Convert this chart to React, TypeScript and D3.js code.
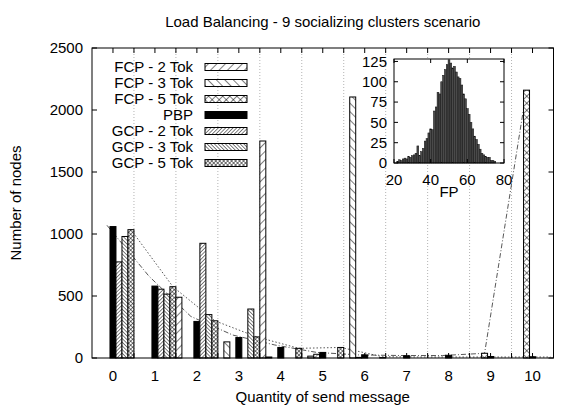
import React, { useEffect, useRef } from 'react';
import * as d3 from 'd3';

// main histogram: nodes per quantity of sent messages
const categories = [0, 1, 2, 3, 4, 5, 6, 7, 8, 9, 10];
const seriesNames = ['FCP - 2 Tok', 'FCP - 3 Tok', 'FCP - 5 Tok', 'PBP', 'GCP - 2 Tok', 'GCP - 3 Tok', 'GCP - 5 Tok'];
const fcp2 = [0, 0, 490, 0, 1750, 0, 0, 0, 0, 0, 0];
const fcp3 = [0, 0, 0, 130, 8, 15, 2105, 0, 0, 0, 0];
const fcp5 = [0, 0, 0, 0, 0, 30, 5, 0, 0, 38, 2160];
const pbp = [1060, 580, 295, 165, 85, 45, 25, 18, 22, 12, 10];
const gcp2 = [775, 555, 925, 0, 0, 0, 0, 0, 0, 0, 0];
const gcp3 = [980, 515, 350, 395, 0, 0, 0, 0, 0, 0, 0];
const gcp5 = [1035, 575, 300, 170, 78, 85, 3, 0, 0, 0, 0];
const trendDotted = [1035, 575, 300, 170, 78, 85, 10, 8, 8, 8, 8];
const trendDashDot = [1070, 660, 335, 185, 105, 45, 25, 20, 20, 38, 2160];
const yTicks = [0, 500, 1000, 1500, 2000, 2500];

// inset: FP distribution
const fpBins = [22, 23, 24, 25, 26, 27, 28, 29, 30, 31, 32, 33, 34, 35, 36, 37, 38, 39, 40, 41, 42, 43, 44, 45, 46, 47, 48,
  49, 50, 51, 52, 53, 54, 55, 56, 57, 58, 59, 60, 61, 62, 63, 64, 65, 66, 67, 68, 69, 70, 71, 72, 73, 74, 75];
const fpCounts = [2, 4, 3, 5, 6, 5, 8, 7, 9, 10, 12, 21, 9, 14, 18, 27, 30, 37, 42, 41, 64, 69, 87, 85, 100, 108, 115,
  121, 127, 123, 117, 119, 112, 106, 104, 96, 85, 79, 67, 60, 50, 42, 33, 29, 23, 17, 12, 10, 8, 7, 7, 3, 3, 2];
const insetXTicks = [20, 40, 60, 80];
const insetYTicks = [0, 25, 50, 75, 100, 125];

const values = [fcp2, fcp3, fcp5, pbp, gcp2, gcp3, gcp5];
const fills = ['url(#sl)', 'url(#sb)', 'url(#sx)', '#000', 'url(#dl)', 'url(#db)', 'url(#dx)'];
const FONT = 'Liberation Sans, Arial, Helvetica, sans-serif';

const App = () => {
  const ref = useRef(null);

  useEffect(() => {
    const svg = d3.select(ref.current);
    svg.selectAll('*').remove();

    const left = 92, right = 553.5, top = 48, bottom = 358;
    const x = d3.scaleLinear().domain([-0.5, 10.5]).range([left, right]);
    const y = d3.scaleLinear().domain([0, 2500]).range([bottom, top]);
    const sub = d3.scaleBand().domain(seriesNames).range([-0.5, 0.5]);

    // hatch patterns
    const defs = svg.append('defs');
    const hatch = (id, size, angle, cross) => {
      const p = defs.append('pattern').attr('id', id).attr('patternUnits', 'userSpaceOnUse')
        .attr('width', size).attr('height', size).attr('patternTransform', `rotate(${angle})`);
      p.append('rect').attr('width', size).attr('height', size).attr('fill', '#fff');
      p.append('line').attr('x1', 0).attr('y1', 0).attr('x2', 0).attr('y2', size)
        .attr('stroke', '#000').attr('stroke-width', 1);
      if (cross) {
        p.append('line').attr('x1', 0).attr('y1', 0).attr('x2', size).attr('y2', 0)
          .attr('stroke', '#000').attr('stroke-width', 1);
      }
    };
    hatch('sl', 6, 45, false);
    hatch('sb', 6, -45, false);
    hatch('sx', 5, 45, true);
    hatch('dl', 2.6, 45, false);
    hatch('db', 2.6, -45, false);
    hatch('dx', 2.8, 45, true);

    svg.append('rect').attr('width', 581).attr('height', 407).attr('fill', '#fff');

    // grid on half units
    const halves = d3.range(0.5, 10, 1);
    svg.append('g').selectAll('line').data(halves).enter().append('line')
      .attr('x1', (d) => x(d)).attr('x2', (d) => x(d)).attr('y1', top).attr('y2', bottom)
      .attr('stroke', '#a0a0a0').attr('stroke-width', 0.8).attr('stroke-dasharray', '1,2');

    // trend lines (drawn under the bars)
    const trend = (data, name, dash) => {
      const off = sub(name) + sub.bandwidth() / 2;
      const line = d3.line().x((d, i) => x(categories[i] + off)).y((d) => y(d));
      svg.append('path').attr('d', line(data)).attr('fill', 'none')
        .attr('stroke', '#444').attr('stroke-width', 0.9).attr('stroke-dasharray', dash);
    };
    trend(trendDotted, 'GCP - 5 Tok', '1.5,2');
    trend(trendDashDot, 'FCP - 5 Tok', '5,2,1,2');

    // bars
    const bars = [];
    categories.forEach((c, i) => {
      seriesNames.forEach((s, k) => {
        if (values[k][i] > 0) bars.push({ c, s, k, v: values[k][i] });
      });
    });
    svg.append('g').selectAll('rect').data(bars).enter().append('rect')
      .attr('x', (d) => x(d.c + sub(d.s)))
      .attr('width', (d) => x(d.c + sub(d.s) + sub.bandwidth()) - x(d.c + sub(d.s)))
      .attr('y', (d) => y(d.v))
      .attr('height', (d) => bottom - y(d.v))
      .attr('fill', (d) => fills[d.k])
      .attr('stroke', '#000').attr('stroke-width', 1);

    // frame and ticks
    svg.append('rect').attr('x', left).attr('y', top).attr('width', right - left).attr('height', bottom - top)
      .attr('fill', 'none').attr('stroke', '#000').attr('stroke-width', 1);
    const xt = d3.range(0, 10.01, 0.5);
    const tg = svg.append('g').attr('stroke', '#000').attr('stroke-width', 1);
    xt.forEach((t) => {
      tg.append('line').attr('x1', x(t)).attr('x2', x(t)).attr('y1', top).attr('y2', top + 5);
      tg.append('line').attr('x1', x(t)).attr('x2', x(t)).attr('y1', bottom).attr('y2', bottom - 5);
    });
    yTicks.forEach((t) => {
      tg.append('line').attr('x1', left).attr('x2', left + 5).attr('y1', y(t)).attr('y2', y(t));
      tg.append('line').attr('x1', right).attr('x2', right - 5).attr('y1', y(t)).attr('y2', y(t));
    });

    const txt = svg.append('g').attr('font-family', FONT).attr('font-size', 15).attr('fill', '#000');
    txt.selectAll('.xl').data(categories).enter().append('text')
      .attr('x', (d) => x(d)).attr('y', 381).attr('text-anchor', 'middle').text((d) => d);
    txt.selectAll('.yl').data(yTicks).enter().append('text')
      .attr('x', 83).attr('y', (d) => y(d)).attr('dy', '0.35em').attr('text-anchor', 'end').text((d) => d);
    txt.append('text').attr('x', (left + right) / 2).attr('y', 27).attr('text-anchor', 'middle')
      .text('Load Balancing - 9 socializing clusters scenario');
    txt.append('text').attr('x', (left + right) / 2).attr('y', 402).attr('text-anchor', 'middle')
      .text('Quantity of send message');
    txt.append('text').attr('transform', `translate(21,${(top + bottom) / 2}) rotate(-90)`)
      .attr('text-anchor', 'middle').text('Number of nodes');

    // legend
    seriesNames.forEach((s, k) => {
      const ry = 67 + 16 * k;
      txt.append('text').attr('x', 193).attr('y', ry).attr('dy', '0.35em').attr('text-anchor', 'end').text(s);
      svg.append('rect').attr('x', 205).attr('y', ry - 3.5).attr('width', 42).attr('height', 7)
        .attr('fill', fills[k]).attr('stroke', '#000').attr('stroke-width', 1);
    });

    // inset histogram
    const il = 394, ir = 504, it = 59, ib = 163;
    const ix = d3.scaleLinear().domain([20, 80]).range([il, ir]);
    const iy = d3.scaleLinear().domain([0, 128]).range([ib, it]);
    svg.append('rect').attr('x', il).attr('y', it).attr('width', ir - il).attr('height', ib - it).attr('fill', '#fff');
    svg.append('g').selectAll('rect').data(fpBins).enter().append('rect')
      .attr('x', (d) => ix(d - 0.5)).attr('width', ix(1) - ix(0))
      .attr('y', (d, i) => iy(fpCounts[i])).attr('height', (d, i) => ib - iy(fpCounts[i]))
      .attr('fill', '#4a4a4a').attr('stroke', '#111').attr('stroke-width', 0.5);
    svg.append('rect').attr('x', il).attr('y', it).attr('width', ir - il).attr('height', ib - it)
      .attr('fill', 'none').attr('stroke', '#000').attr('stroke-width', 1);
    insetXTicks.forEach((t) => {
      tg.append('line').attr('x1', ix(t)).attr('x2', ix(t)).attr('y1', ib).attr('y2', ib - 4);
      tg.append('line').attr('x1', ix(t)).attr('x2', ix(t)).attr('y1', it).attr('y2', it + 4);
      txt.append('text').attr('x', ix(t)).attr('y', 185).attr('text-anchor', 'middle').text(t);
    });
    insetYTicks.forEach((t) => {
      tg.append('line').attr('x1', il).attr('x2', il + 4).attr('y1', iy(t)).attr('y2', iy(t));
      tg.append('line').attr('x1', ir).attr('x2', ir - 4).attr('y1', iy(t)).attr('y2', iy(t));
      txt.append('text').attr('x', 387).attr('y', iy(t)).attr('dy', '0.35em').attr('text-anchor', 'end').text(t);
    });
    txt.append('text').attr('x', (il + ir) / 2).attr('y', 197).attr('text-anchor', 'middle').text('FP');
    tg.raise();
    txt.raise();
  }, []);

  return <svg ref={ref} width={581} height={407} style={{ position: 'absolute', left: 0, top: 0 }} />;
};

export default App;
